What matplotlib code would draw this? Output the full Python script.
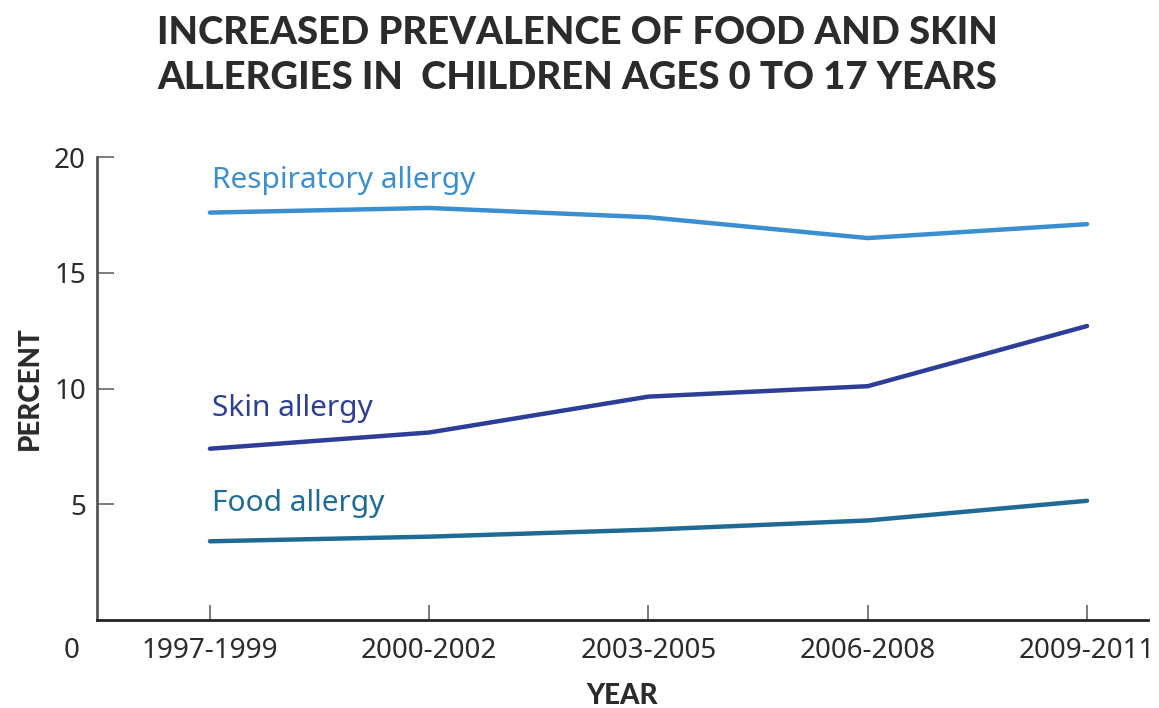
import matplotlib.pyplot as plt

# ── DATA ───────────────────────────────────────────────────────────────────
periods = ["1997-1999", "2000-2002", "2003-2005", "2006-2008", "2009-2011"]
respiratory = [17.6, 17.8, 17.4, 16.5, 17.1]
skin = [7.4, 8.1, 9.65, 10.1, 12.7]
food = [3.4, 3.6, 3.9, 4.3, 5.15]

series_names = ["Respiratory allergy", "Skin allergy", "Food allergy"]
label_y = [19.0, 9.15, 5.05]

# ── STYLE ──────────────────────────────────────────────────────────────────
plt.rcParams['font.family'] = ['Noto Sans', 'DejaVu Sans']
colors = ['#3a8fd0', '#2d3e98', '#1f6b95']
text_dark = '#2b2b2b'
heavy = ['Lato', 'DejaVu Sans']

fig = plt.figure(figsize=(11.59, 7.08), dpi=100)
ax = fig.add_axes([0.0837, 0.1243, 0.9068, 0.6539])

x = list(range(len(periods)))
for vals, c in zip([respiratory, skin, food], colors):
    ax.plot(x, vals, color=c, lw=3.2, solid_capstyle='round', solid_joinstyle='round')

for name, ly, c in zip(series_names, label_y, colors):
    ax.text(0.01, ly, name, color=c, fontsize=21.5, ha='left', va='center')

ax.set_xlim(-0.515, 4.278)
ax.set_ylim(0, 20)
ax.set_xticks(x)
ax.set_xticklabels(periods, fontsize=20, color=text_dark)
ax.set_yticks([5, 10, 15, 20])
ax.set_yticklabels(['5', '10', '15', '20'], fontsize=20, color=text_dark)
ax.tick_params(axis='x', direction='in', length=11, width=1.2, color='#666666', pad=12)
ax.tick_params(axis='y', direction='in', length=12, width=1.2, color='#666666', pad=8)

for s in ['top', 'right']:
    ax.spines[s].set_visible(False)
ax.spines['left'].set_color('#555555')
ax.spines['left'].set_linewidth(2)
ax.spines['bottom'].set_color('#222222')
ax.spines['bottom'].set_linewidth(2)

# zero label sits level with the period labels
ax.annotate('0', xy=(0, 0), xycoords='axes fraction', xytext=(-18, -12),
            textcoords='offset points', ha='center', va='top',
            fontsize=20, color=text_dark)

ax.set_xlabel('YEAR', fontsize=20, fontweight='black', family=heavy, color=text_dark, labelpad=13)
ax.set_ylabel('PERCENT', fontsize=20, fontweight='black', family=heavy, color=text_dark, labelpad=8)

fig.text(0.498, 0.978, 'INCREASED PREVALENCE OF FOOD AND SKIN\nALLERGIES IN  CHILDREN AGES 0 TO 17 YEARS',
         ha='center', va='top', fontsize=27.5, fontweight='black', family=heavy, color=text_dark,
         linespacing=1.42)

fig.savefig('out.png', dpi=100)
